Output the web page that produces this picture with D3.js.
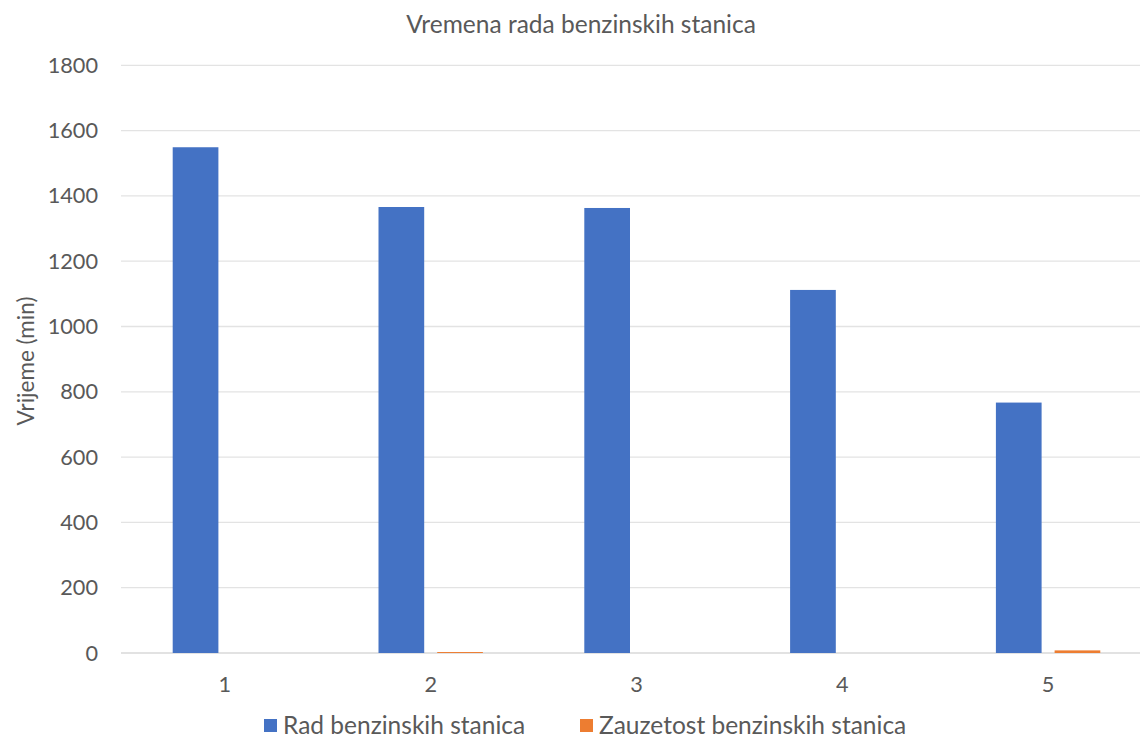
<!DOCTYPE html>
<html><head><meta charset="utf-8">
<script src="https://cdn.jsdelivr.net/npm/d3@7"></script>
<style>body{margin:0;background:#fff}svg{display:block}text{font-family:Lato,"Open Sans",sans-serif}</style>
</head><body>
<svg id="c" width="1140" height="738"></svg>
<script>
const categories = ["1","2","3","4","5"];
const seriesNames = ["Rad benzinskih stanica","Zauzetost benzinskih stanica"];
const radValues = [1549, 1366, 1363, 1112, 767];
const zauzetostValues = [0, 3, 0, 0, 8];
const yTicks = [0,200,400,600,800,1000,1200,1400,1600,1800];
const colors = ["#4472C4","#ED7D31"];

(function(){
const svg = d3.select("#c");
const pLeft = 122, pRight = 1151, pTop = 65.3, pBottom = 653;
const x = d3.scaleBand().domain(categories).range([pLeft, pRight]);
const y = d3.scaleLinear().domain([0,1800]).range([pBottom, pTop]);
const barW = 45.7, gap = 13;

svg.append("text").attr("x",581).attr("y",33).attr("text-anchor","middle")
  .attr("font-size",24.5).attr("fill","#595959").text("Vremena rada benzinskih stanica");

svg.append("g").selectAll("line").data(yTicks).join("line")
  .attr("x1",pLeft-1).attr("x2",pRight).attr("y1",d=>y(d)).attr("y2",d=>y(d))
  .attr("stroke",d=>d===0?"#d9d9d9":"#e3e3e3").attr("stroke-width",1.3);

svg.append("g").selectAll("text").data(yTicks).join("text")
  .attr("x",98).attr("y",d=>y(d)+7.5).attr("text-anchor","end")
  .attr("font-size",21.7).attr("fill","#595959").text(d=>d);

svg.append("text").attr("transform","translate(34,361) rotate(-90)").attr("text-anchor","middle")
  .attr("font-size",22.5).attr("fill","#595959").text("Vrijeme (min)");

const data = categories.map((c,i)=>({c, v:[radValues[i], zauzetostValues[i]]}));
const g = svg.append("g");
data.forEach(d=>{
  const cx = x(d.c) + x.bandwidth()/2;
  d.v.forEach((v,j)=>{
    if (v<=0) return;
    const x0 = j===0 ? cx - gap/2 - barW : cx + gap/2;
    g.append("rect").attr("x",x0).attr("width",barW)
      .attr("y",y(v)).attr("height",Math.max(0,y(0)-y(v))).attr("fill",colors[j]);
  });
});

svg.append("g").selectAll("text").data(categories).join("text")
  .attr("x",d=>x(d)+x.bandwidth()/2).attr("y",692).attr("text-anchor","middle")
  .attr("font-size",21.7).attr("fill","#595959").text(d=>d);

const legX = [264, 580];
seriesNames.forEach((n,i)=>{
  svg.append("rect").attr("x",legX[i]).attr("y",719).attr("width",13).attr("height",13).attr("fill",colors[i]);
  svg.append("text").attr("x",legX[i]+19).attr("y",734).attr("font-size",24.5).attr("fill","#595959").text(n);
});
})();
</script>
</body></html>
